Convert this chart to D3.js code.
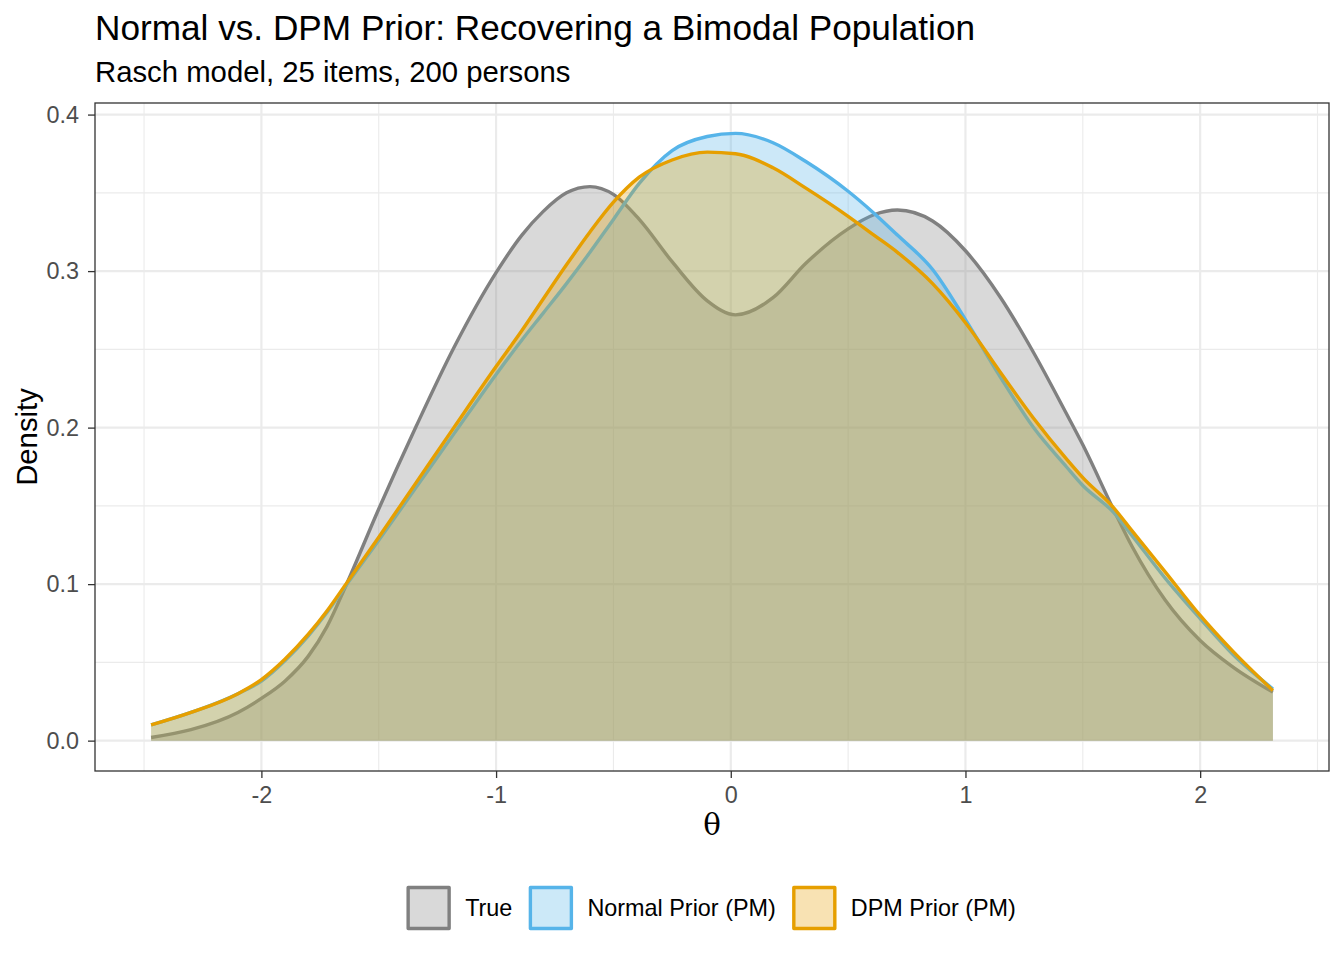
<!DOCTYPE html>
<html>
<head>
<meta charset="utf-8">
<script src="https://cdn.jsdelivr.net/npm/d3@7"></script>
<style>
  body { margin: 0; background: #fff; }
  svg { font-family: "Liberation Sans", Arial, sans-serif; }
</style>
</head>
<body>
<svg id="chart" width="1344" height="960"></svg>
<script>
// theta grid the densities were read at
const theta = [-2.47, -2.3, -2.1, -2.0, -1.9, -1.8, -1.72, -1.64, -1.5, -1.34,
               -1.18, -1.0, -0.89, -0.8, -0.7, -0.6, -0.5, -0.39, -0.25, -0.1,
               0.02, 0.18, 0.32, 0.5, 0.61, 0.71, 0.86, 1.0, 1.15, 1.29,
               1.43, 1.5, 1.63, 1.71, 1.85, 2.0, 2.14, 2.31]

const trueDens = [0.002, 0.007, 0.018, 0.027, 0.038, 0.054, 0.073, 0.099, 0.148, 0.201,
                  0.251, 0.299, 0.323, 0.338, 0.350, 0.354, 0.349, 0.333, 0.306, 0.281,
                  0.272, 0.283, 0.305, 0.327, 0.336, 0.339, 0.332, 0.313, 0.283, 0.248,
                  0.209, 0.189, 0.148, 0.124, 0.090, 0.064, 0.047, 0.031]

const normalDens = [0.010, 0.018, 0.030, 0.038, 0.051, 0.067, 0.082, 0.099, 0.128, 0.162,
                    0.196, 0.234, 0.256, 0.273, 0.292, 0.312, 0.333, 0.356, 0.377, 0.386,
                    0.388, 0.382, 0.370, 0.351, 0.337, 0.323, 0.301, 0.269, 0.232, 0.200,
                    0.175, 0.163, 0.146, 0.131, 0.104, 0.078, 0.055, 0.033]

const dpmDens = [0.010, 0.018, 0.030, 0.039, 0.052, 0.068, 0.083, 0.100, 0.130, 0.165,
                 0.200, 0.239, 0.262, 0.282, 0.304, 0.325, 0.344, 0.360, 0.371, 0.376,
                 0.375, 0.366, 0.353, 0.335, 0.323, 0.312, 0.292, 0.267, 0.235, 0.206,
                 0.180, 0.168, 0.149, 0.134, 0.108, 0.080, 0.057, 0.032]

const seriesNames = ['True', 'Normal Prior (PM)', 'DPM Prior (PM)']
const seriesColors = ['#808080', '#56B4E9', '#E69F00']
const xTicks = [-2, -1, 0, 1, 2]
const yTicks = [0, 0.1, 0.2, 0.3, 0.4]

const series = [trueDens, normalDens, dpmDens].map((vals, i) => ({
  name: seriesNames[i],
  color: seriesColors[i],
  points: theta.map((t, j) => [t, vals[j]])
}))

const svg = d3.select('#chart')

// panel box
const panel = {left: 95, right: 1329, top: 103, bottom: 771}

// ggplot style 5% expansion
const xExt = d3.extent(theta)
const xPad = (xExt[1] - xExt[0]) * 0.05
const yMax = d3.max(series, s => d3.max(s.points, p => p[1]))
const yPad = yMax * 0.05

const xScale = d3.scaleLinear().domain([xExt[0] - xPad, xExt[1] + xPad]).range([panel.left, panel.right])
const yScale = d3.scaleLinear().domain([-yPad, yMax + yPad]).range([panel.bottom, panel.top])

// grid
const grid = svg.append('g')
const xMinor = d3.range(-2.5, 3, 1)
const yMinor = d3.range(0.05, 0.4, 0.1)
grid.selectAll('.xminor').data(xMinor.filter(v => xScale(v) > panel.left && xScale(v) < panel.right))
  .enter().append('line')
  .attr('x1', d => xScale(d)).attr('x2', d => xScale(d))
  .attr('y1', panel.top).attr('y2', panel.bottom)
  .attr('stroke', '#ebebeb').attr('stroke-width', 1.1)
grid.selectAll('.yminor').data(yMinor)
  .enter().append('line')
  .attr('x1', panel.left).attr('x2', panel.right)
  .attr('y1', d => yScale(d)).attr('y2', d => yScale(d))
  .attr('stroke', '#ebebeb').attr('stroke-width', 1.1)
grid.selectAll('.xmajor').data(xTicks)
  .enter().append('line')
  .attr('x1', d => xScale(d)).attr('x2', d => xScale(d))
  .attr('y1', panel.top).attr('y2', panel.bottom)
  .attr('stroke', '#ebebeb').attr('stroke-width', 2.2)
grid.selectAll('.ymajor').data(yTicks)
  .enter().append('line')
  .attr('x1', panel.left).attr('x2', panel.right)
  .attr('y1', d => yScale(d)).attr('y2', d => yScale(d))
  .attr('stroke', '#ebebeb').attr('stroke-width', 2.2)

// densities: fill then upper outline, group by group
const area = d3.area()
  .x(d => xScale(d[0]))
  .y0(yScale(0))
  .y1(d => yScale(d[1]))
  .curve(d3.curveMonotoneX)
const line = d3.line()
  .x(d => xScale(d[0]))
  .y(d => yScale(d[1]))
  .curve(d3.curveMonotoneX)

series.forEach(s => {
  const g = svg.append('g')
  g.append('path')
    .attr('d', area(s.points))
    .attr('fill', s.color)
    .attr('fill-opacity', 0.3)
  g.append('path')
    .attr('d', line(s.points))
    .attr('fill', 'none')
    .attr('stroke', s.color)
    .attr('stroke-width', 3.4)
    .attr('stroke-linejoin', 'round')
})

// panel border
svg.append('rect')
  .attr('x', panel.left).attr('y', panel.top)
  .attr('width', panel.right - panel.left).attr('height', panel.bottom - panel.top)
  .attr('fill', 'none').attr('stroke', '#333333').attr('stroke-width', 1.3)

// axes
const xAxis = svg.append('g')
  .attr('transform', 'translate(0,' + panel.bottom + ')')
  .call(d3.axisBottom(xScale).tickValues(xTicks).tickSize(7).tickPadding(8).tickFormat(d => String(d)))
const yAxis = svg.append('g')
  .attr('transform', 'translate(' + panel.left + ',0)')
  .call(d3.axisLeft(yScale).tickValues(yTicks).tickSize(7).tickPadding(9).tickFormat(d3.format('.1f')))

;[xAxis, yAxis].forEach(ax => {
  ax.select('.domain').remove()
  ax.selectAll('.tick line').attr('stroke', '#333333').attr('stroke-width', 1.3)
  ax.selectAll('.tick text')
    .attr('fill', '#4d4d4d')
    .style('font-size', '23.4px')
    .style('font-family', '"Liberation Sans", Arial, sans-serif')
})

// titles
svg.append('text')
  .attr('x', 95).attr('y', 40)
  .style('font-size', '35.2px')
  .attr('fill', '#000')
  .text('Normal vs. DPM Prior: Recovering a Bimodal Population')
svg.append('text')
  .attr('x', 95).attr('y', 82)
  .style('font-size', '29.3px')
  .attr('fill', '#000')
  .text('Rasch model, 25 items, 200 persons')

svg.append('text')
  .attr('x', (panel.left + panel.right) / 2).attr('y', 835)
  .attr('text-anchor', 'middle')
  .style('font-size', '29.3px')
  .style('font-family', '"DejaVu Serif", "Liberation Serif", serif')
  .text('θ')
svg.append('text')
  .attr('transform', 'translate(37,' + ((panel.top + panel.bottom) / 2) + ') rotate(-90)')
  .attr('text-anchor', 'middle')
  .style('font-size', '29.3px')
  .text('Density')

// legend
const legend = svg.append('g')
const keySize = 41
let cx = 0
series.forEach(s => {
  const g = legend.append('g')
  g.append('rect')
    .attr('x', cx).attr('y', -keySize / 2)
    .attr('width', keySize).attr('height', keySize)
    .attr('fill', d3.interpolateRgb('#ffffff', s.color)(0.3))
    .attr('stroke', s.color).attr('stroke-width', 3.4)
    .attr('stroke-linejoin', 'round')
  const t = g.append('text')
    .attr('x', cx + keySize + 16).attr('y', 0)
    .attr('dy', '0.36em')
    .style('font-size', '23.4px')
    .text(s.name)
  cx += keySize + 16 + t.node().getComputedTextLength() + 18
})
const legendWidth = cx - 18
legend.attr('transform', 'translate(' + ((panel.left + panel.right) / 2 - legendWidth / 2) + ',908)')
</script>
</body>
</html>
